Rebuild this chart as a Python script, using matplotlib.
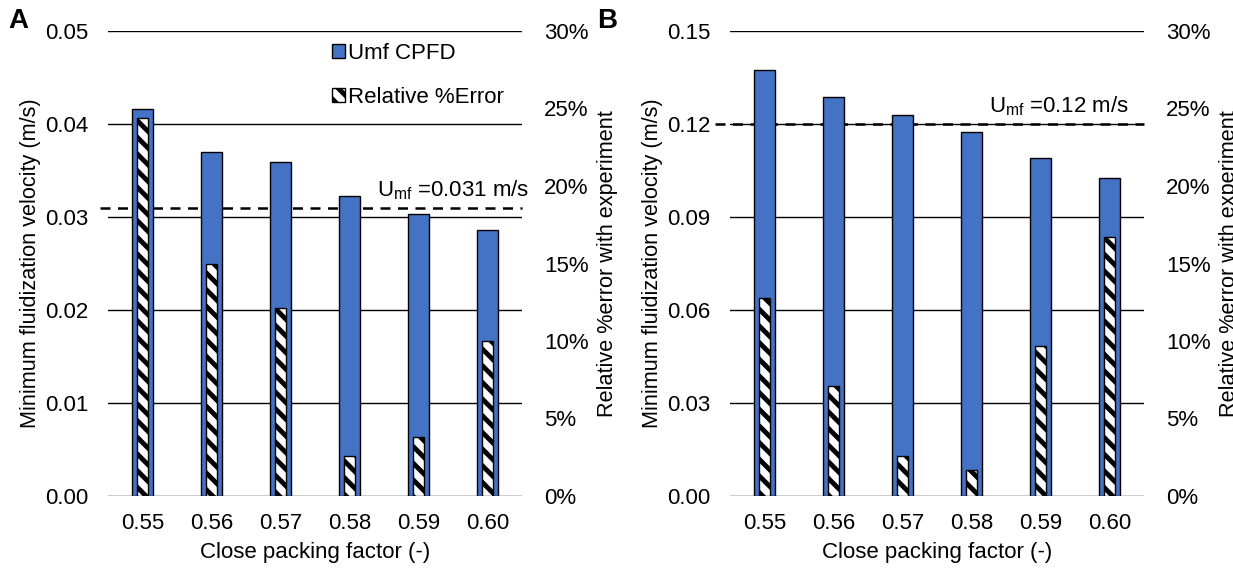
import matplotlib.pyplot as plt
from matplotlib.patches import Patch
from matplotlib.ticker import PercentFormatter

plt.rcParams['font.family'] = ['Liberation Sans', 'DejaVu Sans']
plt.rcParams['hatch.linewidth'] = 3.5

packing = ['0.55', '0.56', '0.57', '0.58', '0.59', '0.60']

# panel A
umf_cpfd_a = [0.0416, 0.0370, 0.0359, 0.0323, 0.0303, 0.0286]
err_a = [24.4, 15.0, 12.1, 2.6, 3.8, 10.0]
umf_exp_a = 0.031

# panel B
umf_cpfd_b = [0.1374, 0.1287, 0.1229, 0.1174, 0.1090, 0.1026]
err_b = [12.8, 7.1, 2.6, 1.7, 9.7, 16.7]
umf_exp_b = 0.12

blue = '#4472C4'
fs = 16
lfs = 15.6
hatch = '\\\\'

fig = plt.figure(figsize=(12.33, 5.71), dpi=100)
W, H = 1233, 571


def panel(left_px, vel, err, umf, ymax, yticks, dash_x0, txt_x, txt_y, umf_txt, legend):
    ax = fig.add_axes([left_px / W, 1 - 496 / H, 414 / W, 465 / H])
    x = range(len(packing))
    ax.bar(x, vel, width=0.31, color=blue, edgecolor='black', linewidth=1, zorder=3)
    ax.plot([dash_x0, 5.5], [umf, umf], ls=(0, (4, 3)), color='black', lw=1.8,
            zorder=2, clip_on=False)
    ax.text(txt_x, txt_y, umf_txt, ha='right', va='baseline', fontsize=fs)
    ax.set_xlim(-0.5, 5.5)
    ax.set_ylim(0, ymax)
    ax.set_yticks(yticks)
    ax.set_yticklabels(['{:.2f}'.format(v) for v in yticks])
    ax.set_xticks(list(x))
    ax.set_xticklabels(packing)
    ax.grid(axis='y', color='black', lw=1, zorder=0)
    ax.set_axisbelow(True)
    for s in ax.spines.values():
        s.set_visible(False)
    ax.tick_params(axis='both', length=0, labelsize=fs)
    ax.tick_params(axis='y', pad=14)
    ax.tick_params(axis='x', pad=12)
    ax.set_ylabel('Minimum fluidization velocity (m/s)', fontsize=lfs, labelpad=3)
    ax.set_xlabel('Close packing factor (-)', fontsize=fs, labelpad=6)

    ax2 = ax.twinx()
    ax2.bar(x, err, width=0.17, color='white', edgecolor='black', hatch=hatch,
            linewidth=1, zorder=3)
    ax2.set_ylim(0, 30)
    ax2.set_yticks([0, 5, 10, 15, 20, 25, 30])
    ax2.yaxis.set_major_formatter(PercentFormatter(decimals=0))
    for s in ax2.spines.values():
        s.set_visible(False)
    ax2.tick_params(axis='y', length=0, labelsize=fs, pad=16)
    ax2.set_ylabel('Relative %error with experiment', fontsize=lfs, labelpad=6)

    if legend:
        handles = [Patch(facecolor=blue, edgecolor='black', label='Umf CPFD'),
                   Patch(facecolor='white', edgecolor='black', hatch=hatch,
                         label='Relative %Error')]
        ax2.legend(handles=handles, loc='upper left', bbox_to_anchor=(0.54, 0.975),
                   frameon=False, fontsize=fs, handlelength=0.6, handleheight=0.6,
                   handletextpad=0.15, labelspacing=1.05, borderpad=0, borderaxespad=0)
    return ax


panel(108, umf_cpfd_a, err_a, umf_exp_a, 0.05, [0, 0.01, 0.02, 0.03, 0.04, 0.05],
      -0.62, 5.6, 0.0322, r'U$_{\mathregular{mf}}$ =0.031 m/s', True)
panel(730, umf_cpfd_b, err_b, umf_exp_b, 0.15, [0, 0.03, 0.06, 0.09, 0.12, 0.15],
      -0.72, 5.28, 0.1239, r'U$_{\mathregular{mf}}$ =0.12 m/s', False)

fig.text(8 / W, 1 - 8 / H, 'A', fontsize=20, fontweight='bold', va='top', ha='left')
fig.text(597 / W, 1 - 8 / H, 'B', fontsize=20, fontweight='bold', va='top', ha='left')

fig.savefig('out.png', dpi=100)
